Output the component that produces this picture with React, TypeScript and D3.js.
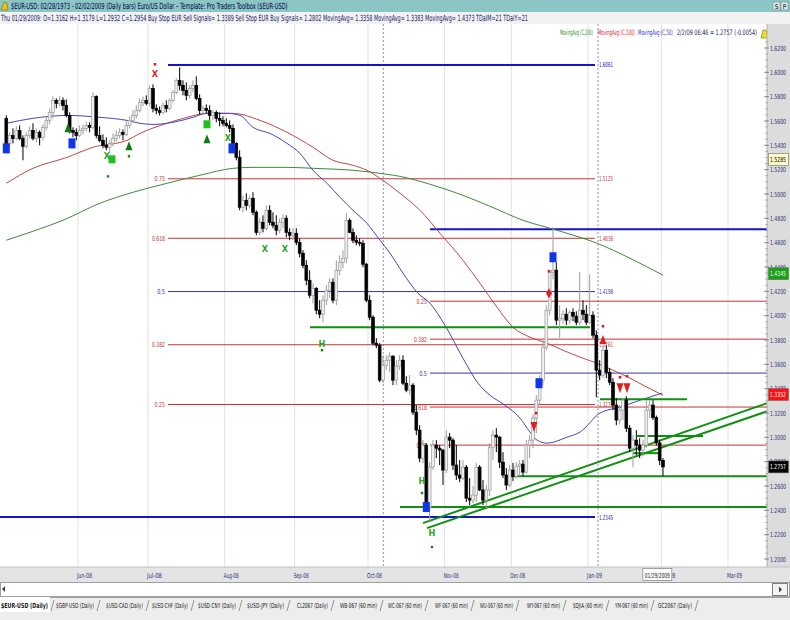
import React, { useLayoutEffect, useRef, useState } from "react";
import * as d3 from "d3";

// ---------- DATA ----------
// daily OHLC, EUR/USD, May 2008 - Feb 2 2009 (weekday bars)
const may08: number[][] = [
  [1.5622, 1.5646, 1.54, 1.5416], [1.5416, 1.5507, 1.5392, 1.5482], [1.5482, 1.554, 1.5416, 1.5457],
  [1.5457, 1.5556, 1.5441, 1.5523], [1.5523, 1.5564, 1.5441, 1.5457], [1.5457, 1.5482, 1.5277, 1.5392],
  [1.5392, 1.5507, 1.5375, 1.5482], [1.5482, 1.5556, 1.5457, 1.5523], [1.5523, 1.5581, 1.5441, 1.5457],
  [1.5457, 1.554, 1.5425, 1.5507], [1.5507, 1.5523, 1.54, 1.5466], [1.5466, 1.5572, 1.5441, 1.5548],
  [1.5548, 1.5638, 1.5523, 1.5605], [1.5605, 1.5704, 1.5572, 1.5671], [1.5671, 1.5802, 1.5622, 1.577],
  [1.577, 1.5786, 1.5704, 1.5745], [1.5745, 1.5802, 1.572, 1.577], [1.577, 1.5794, 1.5687, 1.5729],
  [1.5729, 1.5778, 1.563, 1.5646], [1.5646, 1.5671, 1.5498, 1.5523], [1.5523, 1.5548, 1.5466, 1.5507],
  [1.5507, 1.554, 1.5441, 1.5482],
];
const jun08: number[][] = [
  [1.5482, 1.5564, 1.5466, 1.5523], [1.5523, 1.5572, 1.549, 1.554], [1.554, 1.5597, 1.5515, 1.5564],
  [1.5564, 1.5589, 1.5507, 1.5548], [1.5548, 1.5835, 1.5531, 1.5802], [1.5802, 1.5811, 1.5457, 1.5482],
  [1.5482, 1.5556, 1.5425, 1.5441], [1.5441, 1.549, 1.5375, 1.54], [1.54, 1.5466, 1.5359, 1.5384],
  [1.5384, 1.5441, 1.5343, 1.5416], [1.5416, 1.5498, 1.5392, 1.5457], [1.5457, 1.5523, 1.5433, 1.5482],
  [1.5482, 1.554, 1.5457, 1.5507], [1.5507, 1.5531, 1.5441, 1.549], [1.549, 1.5605, 1.5474, 1.5564],
  [1.5564, 1.5638, 1.554, 1.5605], [1.5605, 1.5687, 1.5589, 1.5646], [1.5646, 1.5729, 1.5622, 1.5687],
  [1.5687, 1.5786, 1.5671, 1.5753], [1.5753, 1.5802, 1.572, 1.577], [1.577, 1.5811, 1.5729, 1.5745],
];
const jul08: number[][] = [
  [1.5745, 1.5893, 1.572, 1.5868], [1.5868, 1.5901, 1.5671, 1.5704], [1.5704, 1.5737, 1.5655, 1.5687],
  [1.5687, 1.572, 1.5646, 1.5671], [1.5671, 1.5753, 1.5655, 1.5729], [1.5729, 1.577, 1.5671, 1.5704],
  [1.5704, 1.5786, 1.5688, 1.577], [1.577, 1.5852, 1.5753, 1.5835], [1.5835, 1.595, 1.5819, 1.5934],
  [1.5934, 1.6041, 1.5852, 1.5893], [1.5893, 1.5934, 1.5811, 1.5852], [1.5852, 1.5917, 1.577, 1.5811],
  [1.5811, 1.5893, 1.5786, 1.5868], [1.5868, 1.5934, 1.5835, 1.5893], [1.5893, 1.5967, 1.577, 1.5786],
  [1.5786, 1.5819, 1.5655, 1.5687], [1.5687, 1.5729, 1.5655, 1.5704], [1.5704, 1.5737, 1.5663, 1.5687],
  [1.5687, 1.5729, 1.5605, 1.5646], [1.5646, 1.5687, 1.5605, 1.5671], [1.5671, 1.5687, 1.5589, 1.5622],
  [1.5622, 1.5671, 1.5556, 1.5605], [1.5605, 1.5638, 1.5556, 1.5581],
];
const aug08: number[][] = [
  [1.5581, 1.5622, 1.5548, 1.5564], [1.5564, 1.5605, 1.5507, 1.554], [1.554, 1.5572, 1.54, 1.5416],
  [1.5416, 1.5425, 1.5277, 1.5302], [1.5302, 1.5359, 1.4866, 1.4891], [1.4891, 1.4989, 1.485, 1.4948],
  [1.4948, 1.5006, 1.4866, 1.4907], [1.4907, 1.4989, 1.4882, 1.4965], [1.4965, 1.5014, 1.4825, 1.485],
  [1.485, 1.4866, 1.4661, 1.4685], [1.4685, 1.4801, 1.4661, 1.4768], [1.4768, 1.4825, 1.4685, 1.4718],
  [1.4718, 1.4907, 1.4702, 1.4866], [1.4866, 1.4907, 1.4743, 1.4768], [1.4768, 1.485, 1.4718, 1.4743],
  [1.4743, 1.4825, 1.4661, 1.4702], [1.4702, 1.4801, 1.4677, 1.4768], [1.4768, 1.4833, 1.4718, 1.4801],
  [1.4801, 1.4825, 1.4644, 1.4685], [1.4685, 1.4718, 1.462, 1.4661], [1.4661, 1.4718, 1.462, 1.4677],
];
const sep08: number[][] = [
  [1.4677, 1.4718, 1.4579, 1.4603], [1.4603, 1.4636, 1.448, 1.4513], [1.4513, 1.4538, 1.439, 1.4414],
  [1.4414, 1.4456, 1.425, 1.4291], [1.4291, 1.4373, 1.4143, 1.4168], [1.4168, 1.4266, 1.4102, 1.4225],
  [1.4225, 1.4234, 1.4012, 1.4045], [1.4045, 1.4127, 1.3979, 1.4012], [1.4012, 1.4168, 1.3946, 1.4127],
  [1.4127, 1.425, 1.4086, 1.4209], [1.4209, 1.4307, 1.4143, 1.4275], [1.4275, 1.4307, 1.4102, 1.4127],
  [1.4127, 1.4456, 1.4086, 1.4373], [1.4373, 1.4497, 1.4332, 1.4439], [1.4439, 1.4538, 1.439, 1.4472],
  [1.4472, 1.4841, 1.443, 1.4784], [1.4784, 1.4801, 1.4677, 1.4685], [1.4685, 1.4718, 1.4595, 1.462],
  [1.462, 1.4661, 1.4579, 1.4603], [1.4603, 1.4636, 1.4571, 1.4595], [1.4595, 1.462, 1.4398, 1.4423],
  [1.4423, 1.4434, 1.411, 1.4127],
];
const oct08: number[][] = [
  [1.4127, 1.4168, 1.3963, 1.3987], [1.3987, 1.4004, 1.3757, 1.3774], [1.3774, 1.3815, 1.3733, 1.3757],
  [1.3757, 1.3774, 1.3453, 1.347], [1.347, 1.3675, 1.3445, 1.3593], [1.3593, 1.3675, 1.3552, 1.3634],
  [1.3634, 1.37, 1.3535, 1.3667], [1.3667, 1.3675, 1.3429, 1.347], [1.347, 1.3634, 1.3429, 1.3585],
  [1.3585, 1.3675, 1.3552, 1.3634], [1.3634, 1.3675, 1.3429, 1.3445], [1.3445, 1.3503, 1.3371, 1.3388],
  [1.3388, 1.3511, 1.3347, 1.3429], [1.3429, 1.3445, 1.3183, 1.3207], [1.3207, 1.3265, 1.3018, 1.306],
  [1.306, 1.31, 1.2796, 1.2829], [1.2829, 1.2977, 1.2788, 1.2936], [1.2936, 1.2952, 1.2402, 1.2425],
  [1.2425, 1.2796, 1.2312, 1.2755], [1.2755, 1.2977, 1.2731, 1.2936], [1.2936, 1.2977, 1.2829, 1.2911],
  [1.2911, 1.2936, 1.2772, 1.2895], [1.2895, 1.2905, 1.2608, 1.2731],
];
const nov08: number[][] = [
  [1.2731, 1.3059, 1.2706, 1.3002], [1.3002, 1.3034, 1.2911, 1.2977], [1.2977, 1.2993, 1.2731, 1.2772],
  [1.2772, 1.2936, 1.2649, 1.269], [1.269, 1.2813, 1.2632, 1.2665], [1.2665, 1.2813, 1.2649, 1.2755],
  [1.2755, 1.2772, 1.2468, 1.25], [1.25, 1.2665, 1.2443, 1.2484], [1.2484, 1.26, 1.246, 1.2525],
  [1.2525, 1.2788, 1.2468, 1.2755], [1.2755, 1.2772, 1.2558, 1.2567], [1.2567, 1.2649, 1.2443, 1.2484],
  [1.2484, 1.2608, 1.2419, 1.2567], [1.2567, 1.2952, 1.2517, 1.2919], [1.2919, 1.3059, 1.2813, 1.3018],
  [1.3018, 1.3075, 1.2878, 1.3002], [1.3002, 1.3009, 1.2747, 1.2796], [1.2796, 1.2878, 1.2665, 1.269],
  [1.269, 1.2747, 1.2567, 1.2608], [1.2608, 1.2772, 1.259, 1.2731],
];
const dec08: number[][] = [
  [1.2731, 1.279, 1.264, 1.268], [1.268, 1.2796, 1.2665, 1.2763], [1.2763, 1.2813, 1.2681, 1.278],
  [1.278, 1.2813, 1.2681, 1.2714], [1.2714, 1.2977, 1.27, 1.2936], [1.2936, 1.3018, 1.2829, 1.2977],
  [1.2977, 1.3191, 1.2911, 1.3158], [1.3158, 1.3347, 1.3034, 1.3306], [1.3306, 1.3511, 1.3265, 1.347],
  [1.347, 1.3799, 1.3429, 1.3741], [1.3741, 1.4086, 1.3716, 1.4045], [1.4045, 1.4374, 1.4004, 1.4357],
  [1.4357, 1.4727, 1.4299, 1.4374], [1.4374, 1.4439, 1.3922, 1.3963], [1.3963, 1.4086, 1.3815, 1.3979],
  [1.3979, 1.4045, 1.393, 1.4012], [1.4012, 1.4061, 1.3922, 1.3963], [1.3963, 1.4045, 1.393, 1.4028],
  [1.4028, 1.4061, 1.3955, 1.3996], [1.3996, 1.4036, 1.3922, 1.3946], [1.3946, 1.4357, 1.3922, 1.4045],
  [1.4045, 1.4127, 1.3963, 1.4012], [1.4012, 1.4086, 1.3922, 1.3946],
];
const jan09: number[][] = [
  [1.3946, 1.434, 1.393, 1.4004], [1.4004, 1.4036, 1.3815, 1.384], [1.384, 1.388, 1.333, 1.3552],
  [1.3552, 1.3634, 1.347, 1.3511], [1.3511, 1.3757, 1.3486, 1.3716], [1.3716, 1.3757, 1.3486, 1.3535],
  [1.3535, 1.3568, 1.3429, 1.3453], [1.3453, 1.3486, 1.3224, 1.3265], [1.3265, 1.3322, 1.31, 1.3142],
  [1.3142, 1.3265, 1.3108, 1.3224], [1.3224, 1.3322, 1.3142, 1.3306], [1.3306, 1.3338, 1.3043, 1.3075],
  [1.3075, 1.31, 1.2878, 1.2911], [1.2911, 1.3018, 1.2755, 1.2977], [1.2977, 1.3059, 1.2854, 1.2936],
  [1.2936, 1.2993, 1.2829, 1.2895], [1.2895, 1.2977, 1.2846, 1.2936], [1.2936, 1.3306, 1.2911, 1.3224],
  [1.3224, 1.3306, 1.3158, 1.3265], [1.3265, 1.3306, 1.3142, 1.3162], [1.3162, 1.3179, 1.2932, 1.2954],
  [1.2954, 1.298, 1.2772, 1.281],
];
const feb09: number[][] = [[1.281, 1.283, 1.2682, 1.2757]];

const monthLabels = ["May-08", "Jun-08", "Jul-08", "Aug-08", "Sep-08", "Oct-08", "Nov-08", "Dec-08", "Jan-09", "Feb-09", "Mar-09"];
const monthBarCounts = [22, 21, 23, 21, 22, 23, 20, 23, 22, 20, 22];

const priceTicks = [1.2, 1.22, 1.24, 1.26, 1.28, 1.3, 1.32, 1.34, 1.36, 1.38, 1.4, 1.42, 1.44, 1.46, 1.48, 1.5, 1.52, 1.54, 1.56, 1.58, 1.6, 1.62];

// moving averages: [bar index, price]
const ma50: number[][] = [
  [0, 1.5581], [8, 1.5622], [18.2, 1.5646], [28.1, 1.563], [36.2, 1.5605], [40.1, 1.5581], [44, 1.5572],
  [50, 1.5589], [56, 1.563], [60.2, 1.5663], [66.2, 1.5663], [70.1, 1.5646], [74, 1.5548], [79.1, 1.5498],
  [84.2, 1.5416], [88.1, 1.5334], [92, 1.5195], [96.2, 1.5088], [100.1, 1.4973], [104, 1.4866], [108.2, 1.4759],
  [112.1, 1.462], [115.1, 1.4513], [119, 1.4349], [123.5, 1.4184], [127.1, 1.4102], [131.6, 1.3921],
  [137, 1.365], [141.5, 1.3445], [145.1, 1.3346], [149.6, 1.3264], [154.1, 1.3158], [157.1, 1.3043],
  [159.2, 1.2977], [162.2, 1.2952], [168.2, 1.3001], [172.1, 1.3043], [178.1, 1.3199], [184.1, 1.3248],
  [190.1, 1.3305], [196.7, 1.3363],
];
const ma100: number[][] = [
  [0, 1.5088], [8, 1.5211], [18.2, 1.5301], [26, 1.5384], [36.2, 1.5441], [40.1, 1.5498], [48.2, 1.5581],
  [54.2, 1.563], [60.2, 1.5663], [68, 1.5663], [76.1, 1.5605], [84.2, 1.5507], [92, 1.5384], [98, 1.5277],
  [104, 1.5236], [108.2, 1.5195], [112.1, 1.5129], [118.1, 1.5006], [124.1, 1.4866], [130.1, 1.4677],
  [137, 1.4455], [142.1, 1.4266], [147.2, 1.4069], [152, 1.3905], [157.1, 1.3823], [162.2, 1.3774],
  [167, 1.3716], [172.1, 1.3659], [177.2, 1.3609], [182, 1.3552], [187.1, 1.3486], [192.2, 1.3412], [197, 1.3346],
];
const ma200: number[][] = [
  [0, 1.462], [7.1, 1.4685], [17, 1.4784], [28.1, 1.4924], [38, 1.5014], [48.2, 1.5088], [58.1, 1.5154],
  [68, 1.5211], [74, 1.5219], [84.2, 1.5219], [92, 1.5211], [104, 1.5195], [114.2, 1.5162], [118.1, 1.5145],
  [127.1, 1.508], [136.1, 1.4998], [145.1, 1.4899], [155, 1.4784], [165.2, 1.4702], [177.2, 1.4595],
  [187.1, 1.4472], [197, 1.4332],
];

// Fibonacci retracement tools
const fibALevels = [1.6061, 1.5125, 1.4636, 1.4198, 1.3761, 1.327, 1.2345];
const fibARatios = ["", "0.75", "0.618", "0.5", "0.382", "0.25", ""];
const fibAFrom = [48.5, 48.5, 48.5, 48.5, 48.5, 48.5, -2];
const fibATo = 176.6;
const fibBLevels = [1.471, 1.4119, 1.3807, 1.3528, 1.3249, 1.2936];
const fibBRatios = ["", "0.25", "0.382", "0.5", "0.618", "0.75"];
const fibBFrom = 127.1;
const fibBTo = 228.3;

// green support / trend lines: [i1, p1, i2, p2]
const greenLines: number[][] = [
  [91.1, 1.3905, 175.1, 1.3905],
  [178.1, 1.3314, 204.2, 1.3314],
  [189.2, 1.301, 209, 1.301],
  [188, 1.287, 196.1, 1.287],
  [151.1, 1.2681, 228.3, 1.2681],
  [118.1, 1.2427, 228.3, 1.2427],
  [125, 1.2295, 228.3, 1.3281],
  [126.2, 1.2254, 228.3, 1.3215],
];
const dashedDays = [113.1, 177.5];

// signal markers [bar index, price]
const blueSquares: number[][] = [[0, 1.5375], [19.7, 1.5416], [67.7, 1.5375], [164, 1.448], [159.8, 1.3445], [126, 1.2427]];
const greenUpTriangles: number[][] = [[18.5, 1.554], [36.8, 1.5392], [60.2, 1.545]];
const greenSquares: number[][] = [[31.7, 1.5285], [60.2, 1.5573]];
const greenDots: number[][] = [[36.8, 1.531], [30.5, 1.5145], [94.7, 1.3716], [124.7, 1.2542], [127.7, 1.2098]];
const greenX: number[][] = [[30.2, 1.5315], [66.5, 1.5466], [77.6, 1.4554], [83.6, 1.4554]];
const greenH: number[][] = [[94.7, 1.3774], [124.7, 1.2649], [127.7, 1.2221]];
const redX: number[][] = [[44.6, 1.5991]];
const redDots: number[][] = [[44.6, 1.6066], [162.8, 1.4365], [158.9, 1.3199], [179, 1.3913], [184.1, 1.3494], [186.2, 1.3502]];
const redDiamonds: number[][] = [[162.8, 1.4184]];
const redDownTriangles: number[][] = [[158.3, 1.3084], [184.1, 1.3404], [186.2, 1.3404]];
const redUpTriangles: number[][] = [[179, 1.3799]];

const axisBoxes = [
  { p: 1.5285, label: "1.5285", bg: "#FFFFC8", fg: "#000000" },
  { p: 1.4345, label: "1.4345", bg: "#18A018", fg: "#F0FFF0" },
  { p: 1.3352, label: "1.3352", bg: "#FF1010", fg: "#FFFFFF" },
  { p: 1.2757, label: "1.2757", bg: "#000000", fg: "#FFFFFF" },
];

const tabs = [
  "$EUR-USD (Daily)", "$GBP-USD (Daily)", "$USD-CAD (Daily)", "$USD-CHF (Daily)", "$USD-CNY (Daily)",
  "$USD-JPY (Daily)", "CL2067 (Daily)", "WB-067 (60 min)", "WC-067 (60 min)", "WF-067 (60 min)",
  "WU-067 (60 min)", "WY-067 (60 min)", "$DJIA (60 min)", "YM-067 (60 min)", "GC2067 (Daily)",
];
const tabStarts = [1, 56, 106, 152, 198, 247, 297, 340, 388, 435, 480, 527, 573, 615, 658];
const tabEnds = [48, 94, 143, 188, 236, 284, 328, 377, 422, 468, 513, 560, 603, 648, 692];

const titleText = "$EUR-USD:  02/28/1973 - 02/02/2009  (Daily bars)   Euro/US Dollar  \u2013  Template: Pro Traders Toolbox ($EUR-USD)";
const infoText = "Thu  01/29/2009:  O=1.3162  H=1.3179  L=1.2932  C=1.2954  Buy Stop EUR Sell Signals= 1.3389  Sell Stop EUR Buy Signals= 1.2802  MovingAvg= 1.3358  MovingAvg= 1.3383  MovingAvg= 1.4373  TDaIM=21  TDaIY=21";
const legendItems = ["MovingAvg (C,200)", "MovingAvg (C,100)", "MovingAvg (C,50)", "2/2/09 06:46 = 1.2757 (-0.0054)"];

// ---------- CHART ----------
const FONT = "'Liberation Sans Narrow','DejaVu Sans Condensed','Arial Narrow',sans-serif";
const RED = "#C83236";
const BLUE_FIB = "#3232B4";
const BLUE_END = "#1414C8";
const GREEN = "#109010";

// text squeezed horizontally (via transform) to a target width
function FitText(props: {
  x: number; y: number; width: number; size: number; fill: string; anchor?: string; weight?: string; children: string;
}) {
  const { x, y, width, size, fill, anchor = "start", weight = "normal", children } = props;
  const ref = useRef<SVGTextElement>(null);
  const [s, setS] = useState(1);
  useLayoutEffect(() => {
    if (ref.current) {
      const w = ref.current.getComputedTextLength();
      if (w > 0) setS(Math.min(1.3, width / w));
    }
  }, [width, children, size]);
  return (
    <text ref={ref} transform={`translate(${x},${y}) scale(${s},1)`} fontSize={size} fill={fill}
      textAnchor={anchor} fontWeight={weight}>{children}</text>
  );
}

export default function App() {
  const W = 790, H = 620;
  const plotR = 767, plotT = 24, plotB = 567;
  const bars = [...may08, ...jun08, ...jul08, ...aug08, ...sep08, ...oct08, ...nov08, ...dec08, ...jan09, ...feb09];
  const x = d3.scaleLinear().domain([0, 228.2]).range([6.3, 767]);
  const y = d3.scaleLinear().domain([1.2, 1.62]).range([559, 48]);
  const line = d3.line<number[]>().x(d => x(d[0])).y(d => y(d[1])).curve(d3.curveMonotoneX);

  const cum = d3.cumsum(monthBarCounts);
  const boundaries = monthLabels.map((m, k) => ({ m, b: (k === 0 ? 0 : cum[k - 1]) - 0.5 }));

  const minorTicks = d3.range(1.2, 1.6251, 0.005);

  const legendColors = ["#2E8B2E", "#D02828", "#3030C0", "#202060"];
  const legendX = [560, 598, 638, 677];
  const legendW = [33, 37, 35, 80];

  return (
    <div style={{ position: "fixed", left: 0, top: 0, width: W, height: H, background: "#fff" }}>
      <svg width={W} height={H} style={{ display: "block", fontFamily: FONT }}>
        {/* title bar */}
        <rect x={0} y={0} width={W} height={12} fill="#8CC6C4" />
        <path d="M1,10 L4,2 L7,3 L8,10 Z" fill="#E8C020" stroke="#606000" strokeWidth={0.5} />
        <FitText x={11} y={9} width={277} size={8.5} fill="#00004A">{titleText}</FitText>
        <rect x={773} y={2} width={7} height={8} fill="#D8E8E8" stroke="#708080" strokeWidth={0.5} />
        <rect x={781} y={2} width={7} height={8} fill="#D8E8E8" stroke="#708080" strokeWidth={0.5} />
        <text x={776.5} y={9} fontSize={6.5} textAnchor="middle" fill="#000">S</text>
        <text x={784.5} y={9} fontSize={6.5} textAnchor="middle" fill="#000">P</text>

        {/* info line */}
        <rect x={0} y={12} width={W} height={12} fill="#F2F2F2" />
        <FitText x={1} y={21} width={528} size={8.5} fill="#18186E">{infoText}</FitText>

        {/* plot area */}
        <rect x={0} y={plotT} width={plotR} height={plotB - plotT} fill="#FFFFFF" />
        {boundaries.filter(d => d.b > 0).map(d => (
          <line key={d.m} x1={x(d.b)} x2={x(d.b)} y1={plotT} y2={plotB} stroke="#E2E2E2" strokeWidth={1} />
        ))}
        {dashedDays.map(d => (
          <line key={d} x1={x(d)} x2={x(d)} y1={plotT} y2={plotB} stroke="#8C8CC8" strokeWidth={1} strokeDasharray="2,2" />
        ))}

        {/* legend */}
        {legendItems.map((t, k) => (
          <FitText key={t} x={legendX[k]} y={35} width={legendW[k]} size={7.5} fill={legendColors[k]}>{t}</FitText>
        ))}
        <path d="M761,38 L763,30 L766,30 L768,38 Z" fill="#F0E020" stroke="#505000" strokeWidth={0.5} />

        {/* fib set A */}
        {fibALevels.map((p, k) => {
          const r = fibARatios[k];
          const isEnd = r === "";
          const col = isEnd ? BLUE_END : r === "0.5" ? BLUE_FIB : RED;
          return (
            <g key={"fa" + k}>
              <line x1={Math.max(0, x(fibAFrom[k]))} x2={x(fibATo)} y1={y(p)} y2={y(p)} stroke={col} strokeWidth={isEnd ? 2 : 1} />
              {r && <FitText x={x(fibAFrom[k]) - 3} y={y(p) + 2.5} width={r.length * 2.6} size={7} anchor="end" fill={col}>{r}</FitText>}
              <FitText x={x(fibATo) + 4} y={y(p) + 2.5} width={14} size={7} fill={col}>{p.toFixed(4)}</FitText>
            </g>
          );
        })}
        {/* fib set B */}
        {fibBLevels.map((p, k) => {
          const r = fibBRatios[k];
          const isEnd = r === "";
          const col = isEnd ? BLUE_END : r === "0.5" ? BLUE_FIB : RED;
          return (
            <g key={"fb" + k}>
              <line x1={x(fibBFrom)} x2={x(fibBTo)} y1={y(p)} y2={y(p)} stroke={col} strokeWidth={isEnd ? 2 : 1} />
              {r && <FitText x={x(fibBFrom) - 3} y={y(p) + 2.5} width={r.length * 2.6} size={7} anchor="end" fill={col}>{r}</FitText>}
            </g>
          );
        })}

        {/* moving averages */}
        <path d={line(ma200) || ""} fill="none" stroke="#3C8C3C" strokeWidth={1} />
        <path d={line(ma100) || ""} fill="none" stroke="#C04848" strokeWidth={1} />
        <path d={line(ma50) || ""} fill="none" stroke="#4848B0" strokeWidth={1} />

        {/* green lines */}
        {greenLines.map((g, k) => (
          <line key={"g" + k} x1={x(g[0])} y1={y(g[1])} x2={x(g[2])} y2={y(g[3])} stroke={GREEN} strokeWidth={2} />
        ))}

        {/* candles */}
        {bars.map((b, i) => {
          const [o, h, l, c] = b;
          const up = c >= o;
          const cx = x(i);
          const top = y(Math.max(o, c));
          const hh = Math.max(1, Math.abs(y(o) - y(c)));
          return (
            <g key={"c" + i}>
              <line x1={cx} x2={cx} y1={y(h)} y2={y(l)} stroke={up ? "#9C9C9C" : "#000"} strokeWidth={1} />
              <rect x={cx - 1.4} y={top} width={2.8} height={hh} fill={up ? "#EEEEEE" : "#000"} stroke={up ? "#9C9C9C" : "#000"} strokeWidth={0.7} />
            </g>
          );
        })}

        {/* markers */}
        {blueSquares.map((m, k) => (
          <rect key={"bs" + k} x={x(m[0]) - 3.5} y={y(m[1]) - 5} width={7} height={10} fill="#1034E8" />
        ))}
        {greenUpTriangles.map((m, k) => {
          const cx = x(m[0]), cy = y(m[1]);
          return <path key={"gt" + k} d={`M${cx},${cy - 5} L${cx + 3.5},${cy + 4} L${cx - 3.5},${cy + 4} Z`} fill="#0E7A0E" />;
        })}
        {greenSquares.map((m, k) => (
          <rect key={"gq" + k} x={x(m[0]) - 3.5} y={y(m[1]) - 4} width={7} height={8} fill="#22C022" />
        ))}
        {greenDots.map((m, k) => (
          <rect key={"gd" + k} x={x(m[0]) - 1.2} y={y(m[1]) - 1.2} width={2.4} height={2.4} fill="#0E8A0E" />
        ))}
        {greenX.map((m, k) => (
          <text key={"gx" + k} x={x(m[0])} y={y(m[1]) + 3.5} fontSize={9} fontWeight="bold" textAnchor="middle" fill="#22A822">X</text>
        ))}
        {greenH.map((m, k) => (
          <text key={"gh" + k} x={x(m[0])} y={y(m[1]) + 3.5} fontSize={9} fontWeight="bold" textAnchor="middle" fill="#22A822">H</text>
        ))}
        {redX.map((m, k) => (
          <text key={"rx" + k} x={x(m[0])} y={y(m[1]) + 3.5} fontSize={9} fontWeight="bold" textAnchor="middle" fill="#E02020">X</text>
        ))}
        {redDots.map((m, k) => (
          <rect key={"rd" + k} x={x(m[0]) - 1.3} y={y(m[1]) - 1.3} width={2.6} height={2.6} fill="#E02020" />
        ))}
        {redDiamonds.map((m, k) => {
          const cx = x(m[0]), cy = y(m[1]);
          return <path key={"rdm" + k} d={`M${cx},${cy - 5} L${cx + 3},${cy} L${cx},${cy + 5} L${cx - 3},${cy} Z`} fill="#E02020" />;
        })}
        {redDownTriangles.map((m, k) => {
          const cx = x(m[0]), cy = y(m[1]);
          return <path key={"rdt" + k} d={`M${cx - 3.5},${cy - 5} L${cx + 3.5},${cy - 5} L${cx},${cy + 5} Z`} fill="#E02020" />;
        })}
        {redUpTriangles.map((m, k) => {
          const cx = x(m[0]), cy = y(m[1]);
          return <path key={"rut" + k} d={`M${cx},${cy - 5} L${cx + 3.5},${cy + 4} L${cx - 3.5},${cy + 4} Z`} fill="#E02020" />;
        })}

        {/* right axis */}
        <rect x={plotR} y={plotT} width={W - plotR} height={plotB - plotT} fill="#DCDCDC" />
        <line x1={plotR} x2={plotR} y1={plotT} y2={plotB} stroke="#B0B0B0" />
        {minorTicks.map((p, k) => (
          <line key={"mt" + k} x1={plotR - 2} x2={plotR + 1} y1={y(p)} y2={y(p)} stroke="#909090" strokeWidth={0.6} />
        ))}
        {priceTicks.map(p => (
          <g key={"pt" + p}>
            <line x1={plotR - 3} x2={plotR + 2} y1={y(p)} y2={y(p)} stroke="#808080" strokeWidth={0.8} />
            <FitText x={770} y={y(p) + 2.5} width={16} size={7} fill="#30307A">{p.toFixed(4)}</FitText>
          </g>
        ))}
        {axisBoxes.map(b => (
          <g key={"ab" + b.label}>
            <rect x={768.5} y={y(b.p) - 6} width={20} height={12} fill={b.bg} stroke="#707070" strokeWidth={0.6} />
            <FitText x={770} y={y(b.p) + 2.5} width={16} size={7} fill={b.fg}>{b.label}</FitText>
          </g>
        ))}

        {/* bottom date axis */}
        <rect x={0} y={plotB} width={W} height={15} fill="#E4E4E4" />
        <line x1={0} x2={W} y1={plotB} y2={plotB} stroke="#C0C0C0" />
        {boundaries.filter(d => d.b > 0).map(d => (
          <FitText key={"ml" + d.m} x={x(d.b) - 1} y={578} width={15} size={7} fill="#30307A">{d.m}</FitText>
        ))}
        <rect x={x(195) - 13.5} y={568.5} width={29} height={12} fill="#FFFFFF" stroke="#808080" strokeWidth={0.7} />
        <FitText x={x(195) + 1} y={577.5} width={25} size={7} anchor="middle" fill="#202020">01/29/2009</FitText>

        {/* scrollbar */}
        <rect x={0.5} y={582.5} width={W - 1} height={14} fill="#FFFFFF" stroke="#A0A0A0" />
        <path d="M2,589 L5,586 L5,592 Z" fill="#404040" />
        <rect x={772.5} y={583.5} width={15} height={12} fill="#F4F4F4" stroke="#808080" />
        <path d="M782,589.5 L779,586.5 L779,592.5 Z" fill="#404040" />

        {/* tabs */}
        <rect x={0} y={597} width={W} height={23} fill="#EDEDED" />
        <line x1={0} x2={W} y1={597.5} y2={597.5} stroke="#A0A0A0" />
        <rect x={0} y={597} width={50} height={15} fill="#FFFFFF" />
        {tabs.map((t, k) => (
          <g key={"tab" + k}>
            <FitText x={tabStarts[k]} y={608} width={tabEnds[k] - tabStarts[k]} size={7} weight={k === 0 ? "bold" : "normal"} fill="#202020">{t}</FitText>
            <line x1={tabEnds[k] + 3} y1={611} x2={tabEnds[k] + 6} y2={600} stroke="#808080" strokeWidth={0.8} />
          </g>
        ))}
      </svg>
    </div>
  );
}
